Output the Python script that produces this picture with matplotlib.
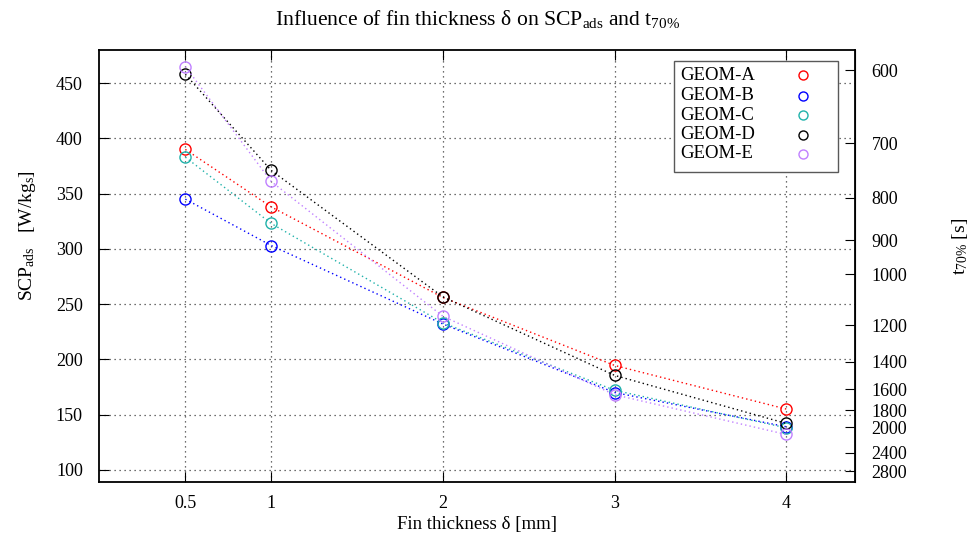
import matplotlib
matplotlib.use("Agg")
import matplotlib.pyplot as plt
from matplotlib.patches import Rectangle

plt.rcParams['font.family'] = ['Liberation Serif', 'DejaVu Serif']
plt.rcParams['mathtext.fontset'] = 'custom'
plt.rcParams['mathtext.rm'] = 'Liberation Serif'
plt.rcParams['mathtext.it'] = 'Liberation Serif:italic'
plt.rcParams['mathtext.default'] = 'rm'
plt.rcParams['font.size'] = 13

# ---- data ----
thickness = [0.5, 1, 2, 3, 4]
series_names = ["GEOM-A", "GEOM-B", "GEOM-C", "GEOM-D", "GEOM-E"]
geom_a = [390, 338, 256, 194.5, 155]
geom_b = [345, 303, 232, 170, 139]
geom_c = [383, 323, 233, 172, 138]
geom_d = [458, 371, 256.5, 185.5, 142]
geom_e = [465, 361, 239, 168, 132]
series_values = [geom_a, geom_b, geom_c, geom_d, geom_e]
colors = ["#ff0000", "#0000ff", "#20b2aa", "#000000", "#c080ff"]
x_ticks = [0.5, 1, 2, 3, 4]
x_tick_labels = ["0.5", "1", "2", "3", "4"]
y_ticks = [100, 150, 200, 250, 300, 350, 400, 450]
t_ticks = [600, 700, 800, 900, 1000, 1200, 1400, 1600, 1800, 2000, 2400, 2800]
K = 277000.0  # t70% = K / SCP

W, H = 970, 542
L, R, T, B = 99.5, 855, 50, 482
fig = plt.figure(figsize=(W / 100, H / 100), dpi=100)
ax = fig.add_axes([L / W, 1 - B / H, (R - L) / W, (B - T) / H])

for name, vals, c in zip(series_names, series_values, colors):
    ax.plot(thickness, vals, linestyle=(0, (1, 2.2)), lw=1.0, color=c,
            marker='o', markersize=8, markerfacecolor='none',
            markeredgecolor=c, markeredgewidth=1.0, label=name)

ax.set_xlim(0.0, 4.4)
ax.set_ylim(89, 480)
ax.set_xticks(x_ticks)
ax.set_xticklabels(x_tick_labels)
ax.set_yticks(y_ticks)
ax.grid(True, color='0.25', linestyle=(0, (1, 3)), lw=0.9)
ax.tick_params(axis='x', direction='in', top=True, length=7, width=0.8, pad=9)
ax.tick_params(axis='y', direction='in', left=True, right=False, length=7, width=0.8, pad=12)
for s in ax.spines.values():
    s.set_linewidth(1.3)

sec = ax.secondary_yaxis('right', functions=(lambda s: K / s, lambda t: K / t))
sec.set_yticks(t_ticks)
sec.set_yticklabels([str(t) for t in t_ticks])
sec.minorticks_off()
sec.tick_params(axis='y', direction='in', length=7, width=0.8, pad=12)

ax.set_xlabel("Fin thickness δ [mm]", labelpad=3, fontsize=13.5)
ax.set_title(r"Influence of fin thickness δ on SCP$_{ads}$ and t$_{70\%}$", pad=18)

# axis titles placed at the reference's pixel positions
fig.text(28 / W, 1 - 236 / H, r"SCP$_{ads}$   [W/kg$_{s}$]", rotation=90,
         ha='center', va='center', fontsize=14)
fig.text(960 / W, 1 - 246 / H, r"t$_{70\%}$ [s]", rotation=90,
         ha='center', va='center', fontsize=14)


# ---- legend drawn as a box with text and markers (pixel layout) ----
def ax_xy(px, py):
    return (px - L) / (R - L), 1 - (py - T) / (B - T)

bx0, by0 = ax_xy(674, 172)
bx1, by1 = ax_xy(838, 61)
ax.add_patch(Rectangle((bx0, by0), bx1 - bx0, by1 - by0, transform=ax.transAxes,
                       facecolor='white', edgecolor='0.35', lw=1.0, zorder=5))
row_y = [75, 95.5, 115, 134.5, 154]
for name, c, py in zip(series_names, colors, row_y):
    tx, ty = ax_xy(680, py)
    ax.text(tx, ty, name, transform=ax.transAxes, ha='left', va='center',
            fontsize=13.5, zorder=6)
    mx, my = ax_xy(803, py)
    ax.plot([mx], [my], transform=ax.transAxes, linestyle='none', marker='o',
            markersize=6.5, markerfacecolor='none', markeredgecolor=c,
            markeredgewidth=1.0, zorder=6, clip_on=False)

fig.savefig("out.png", dpi=100)
